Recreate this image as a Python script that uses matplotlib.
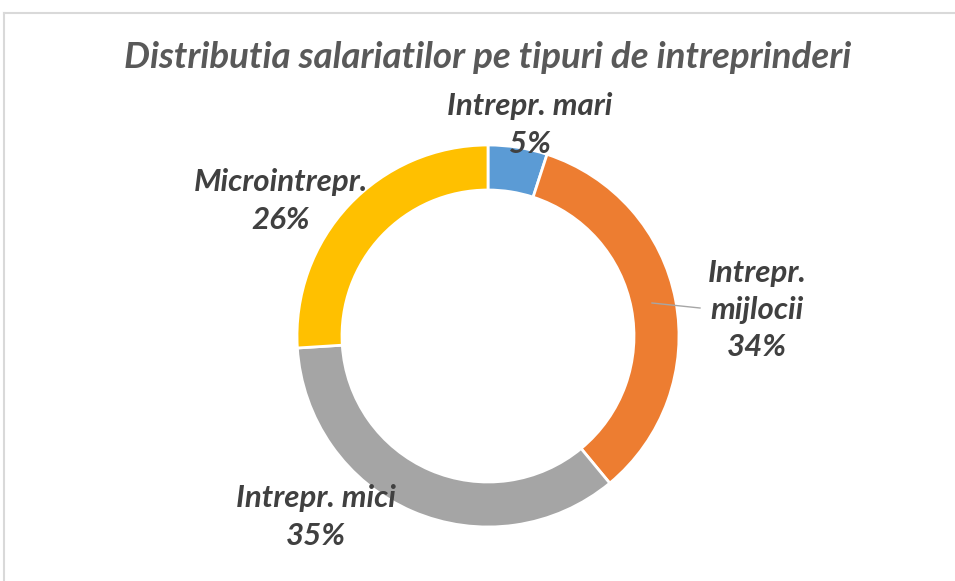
import numpy as np
import matplotlib
matplotlib.use("Agg")
import matplotlib.pyplot as plt
from matplotlib.lines import Line2D

# data
categories = ["Intrepr. mari", "Intrepr.\nmijlocii", "Intrepr. mici", "Microintrepr."]
shares = [5, 34, 35, 26]
colors = ["#5B9BD5", "#ED7D31", "#A5A5A5", "#FFC000"]

# label offsets from the ring centre, in pixels (layout only)
label_offsets = [(42, 211), (269, 26), (-172, -181), (-207, 135)]

W, H = 955, 581
cx, cy, radius = 488, H - 336, 191
ring_width = 45 / 191

plt.rcParams['font.family'] = ['Lato', 'DejaVu Sans']

fig = plt.figure(figsize=(W / 100, H / 100), dpi=100)
ax = fig.add_axes([0, 0, 1, 1])

ax.pie(shares, colors=colors, startangle=90, counterclock=False,
       center=(cx, cy), radius=radius,
       wedgeprops=dict(width=radius * ring_width, edgecolor='white', linewidth=2))

# pie() resets the limits, so set them afterwards
ax.set_xlim(0, W)
ax.set_ylim(0, H)
ax.set_aspect('equal')
ax.axis('off')

for name, pct, (dx, dy) in zip(categories, shares, label_offsets):
    ax.text(cx + dx, cy + dy, '{}\n{}%'.format(name, pct),
            ha='center', va='center', fontsize=22.5, fontweight='bold',
            style='italic', color='#404040', linespacing=1.4)

# leader line for the middle-size enterprises label
ax.add_line(Line2D([652, 700], [H - 303, H - 308], color='#A6A6A6', lw=1))

ax.text(488, H - 58, 'Distributia salariatilor pe tipuri de intreprinderi',
        ha='center', va='center', fontsize=26.5, fontweight='bold',
        style='italic', color='#595959')

# chart frame (top and left edges visible)
ax.add_line(Line2D([3.5, W], [H - 12.5, H - 12.5], color='#D9D9D9', lw=1.5))
ax.add_line(Line2D([3.5, 3.5], [0, H - 12.5], color='#D9D9D9', lw=1.5))

fig.savefig('out.png', dpi=100)
